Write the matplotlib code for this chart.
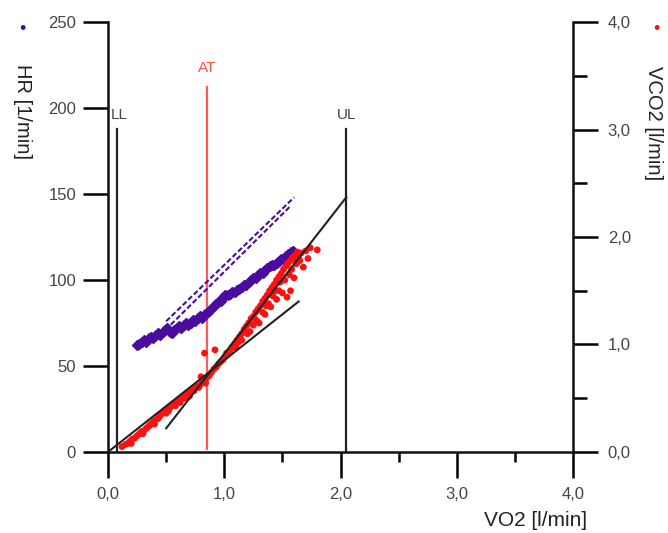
import matplotlib
matplotlib.use("Agg")
import matplotlib.pyplot as plt
import numpy as np

plt.rcParams['font.family'] = ['Liberation Sans', 'DejaVu Sans']

# HR vs VO2 (purple)
hr_vo2 = [0.25, 0.27, 0.29, 0.31, 0.33, 0.35, 0.37, 0.39, 0.41, 0.43, 0.45, 0.47,
          0.49, 0.51, 0.53, 0.55, 0.57, 0.59, 0.61, 0.63, 0.65, 0.67, 0.69, 0.71,
          0.73, 0.75, 0.77, 0.79, 0.81, 0.83, 0.85, 0.87, 0.89, 0.91, 0.93, 0.95,
          0.97, 0.99, 1.01, 1.03, 1.05, 1.07, 1.09, 1.11, 1.13, 1.15, 1.17, 1.19,
          1.21, 1.23, 1.25, 1.27, 1.29, 1.31, 1.33, 1.35, 1.37, 1.39, 1.41, 1.43,
          1.45, 1.47, 1.49, 1.51, 1.53, 1.55, 1.57, 1.59, 1.61]
hr_vals = [62, 63, 64, 65, 64, 66, 67, 66, 68, 69, 68, 70,
           71, 72, 70, 69, 71, 72, 73, 72, 74, 75, 74, 75,
           77, 76, 78, 79, 78, 80, 81, 82, 83, 85, 86, 87,
           88, 90, 91, 91, 92, 93, 93, 94, 95, 96, 97, 97,
           99, 100, 101, 101, 103, 104, 104, 106, 107, 108, 109, 109,
           110, 111, 112, 112, 114, 115, 116, 117, 114]

# HR reference lines (dashed)
hr_ref1_x = [0.50, 1.60]
hr_ref1_y = [76, 148]
hr_ref2_x = [0.54, 1.57]
hr_ref2_y = [74, 143]

# VCO2 vs VO2 (red)
co2_vo2 = [0.12, 0.15, 0.17, 0.19, 0.21, 0.23, 0.25, 0.27, 0.29, 0.31, 0.33, 0.35,
           0.37, 0.39, 0.41, 0.43, 0.45, 0.47, 0.49, 0.51, 0.53, 0.55, 0.57, 0.59,
           0.61, 0.63, 0.65, 0.67, 0.69, 0.71, 0.73, 0.75, 0.77, 0.79, 0.81, 0.83,
           0.85, 0.87, 0.20, 0.30, 0.40, 0.44, 0.50, 0.58, 0.62, 0.70, 0.78, 0.84,
           0.83, 0.92, 0.80,
           0.89, 0.91, 0.93, 0.95, 0.97, 0.99, 1.01, 1.03, 1.05, 1.07, 1.09, 1.11,
           1.13, 1.15, 1.17, 1.19, 1.21, 1.23, 1.25, 1.27, 1.29, 1.31, 1.33, 1.35,
           1.37, 1.39, 1.41, 1.43, 1.45, 1.47, 1.49, 1.51, 1.53, 1.55, 1.57, 1.59,
           1.61, 1.63, 1.66, 1.70, 1.74, 1.80,
           1.10, 1.15, 1.20, 1.22, 1.25, 1.28, 1.30, 1.33, 1.35, 1.38, 1.40, 1.42,
           1.45, 1.47, 1.50, 1.52, 1.54, 1.56, 1.58, 1.60, 1.62, 1.65, 1.68, 1.72,
           1.57, 0.36, 0.52, 0.66, 0.74, 1.02, 1.12, 1.26, 1.36, 1.44, 1.48, 1.64]
co2_vals = [0.05, 0.07, 0.08, 0.10, 0.12, 0.13, 0.15, 0.17, 0.19, 0.20, 0.22, 0.24,
            0.26, 0.28, 0.30, 0.31, 0.34, 0.36, 0.37, 0.39, 0.41, 0.43, 0.45, 0.46,
            0.48, 0.50, 0.51, 0.53, 0.55, 0.56, 0.58, 0.60, 0.61, 0.62, 0.65, 0.66,
            0.69, 0.71, 0.08, 0.17, 0.26, 0.33, 0.36, 0.43, 0.46, 0.52, 0.60, 0.64,
            0.92, 0.95, 0.70,
            0.74, 0.77, 0.79, 0.82, 0.84, 0.86, 0.89, 0.91, 0.94, 0.98, 1.01, 1.04,
            1.07, 1.10, 1.14, 1.17, 1.20, 1.24, 1.26, 1.30, 1.33, 1.36, 1.40, 1.43,
            1.46, 1.50, 1.53, 1.56, 1.60, 1.63, 1.66, 1.70, 1.73, 1.76, 1.78, 1.81,
            1.83, 1.86, 1.85, 1.87, 1.90, 1.88,
            0.97, 1.04, 1.10, 1.12, 1.18, 1.22, 1.20, 1.30, 1.28, 1.38, 1.35, 1.45,
            1.42, 1.50, 1.48, 1.60, 1.44, 1.65, 1.70, 1.62, 1.75, 1.78, 1.72, 1.80,
            1.50, 0.25, 0.38, 0.50, 0.57, 0.92, 1.02, 1.24, 1.36, 1.50, 1.58, 1.80]

# regression lines in VCO2 units
fit1_x = [0.0, 1.64]
fit1_y = [0.0, 1.40]
fit2_x = [0.50, 2.05]
fit2_y = [0.22, 2.37]

# threshold markers (VO2, top in HR units)
ll_x, ll_top = 0.08, 188
at_x, at_top = 0.85, 212
ul_x, ul_top = 2.05, 188

purple = '#4a0c9e'
red = '#ff1010'
gray = '#444444'

fig = plt.figure(figsize=(6.68, 5.33), dpi=100)
ax = fig.add_axes([0.1617, 0.152, 0.6961, 0.8067])
ax2 = ax.twinx()

ax.set_xlim(0, 4)
ax.set_ylim(0, 250)
ax2.set_ylim(0, 4)

for a in (ax, ax2):
    a.spines['top'].set_visible(False)
    for s in a.spines.values():
        s.set_linewidth(1.8)
        s.set_color('#111111')
ax.spines['right'].set_visible(False)
ax2.spines['left'].set_visible(False)
ax2.spines['bottom'].set_visible(False)

ax.set_xticks([0, 1, 2, 3, 4])
ax.set_xticks([0.5, 1.5, 2.5, 3.5], minor=True)
ax.set_xticklabels(['0,0', '1,0', '2,0', '3,0', '4,0'])
ax.set_yticks([0, 50, 100, 150, 200, 250])
ax2.set_yticks([0, 1, 2, 3, 4])
ax2.set_yticks([0.5, 1.5, 2.5, 3.5], minor=True)
ax2.set_yticklabels(['0,0', '1,0', '2,0', '3,0', '4,0'])

ax.tick_params(axis='x', which='major', length=19, width=1.8, pad=6, labelsize=12, labelcolor=gray)
ax.tick_params(axis='x', which='minor', length=7, width=1.8)
ax.tick_params(axis='y', which='major', length=18, width=1.8, pad=5, labelsize=12, labelcolor=gray)
ax2.tick_params(axis='y', which='major', length=18, width=1.8, pad=7, labelsize=12, labelcolor=gray)
ax2.tick_params(axis='y', which='minor', length=10, width=1.8)

# vertical threshold lines
ax.plot([ll_x, ll_x], [0, ll_top], color='#222222', lw=1.6)
ax.plot([ul_x, ul_x], [0, ul_top], color='#222222', lw=1.6)
ax.plot([at_x, at_x], [2, at_top], color='#ff5a5a', lw=1.6)
ax.text(ll_x + 0.02, ll_top + 8, 'LL', ha='center', va='center', fontsize=11, color=gray)
ax.text(ul_x, ul_top + 8, 'UL', ha='center', va='center', fontsize=11, color=gray)
ax.text(at_x, at_top + 11, 'AT', ha='center', va='center', fontsize=11, color='#ff5050')

# HR data
ax.plot(hr_ref1_x, hr_ref1_y, color=purple, lw=1.5, ls=(0, (2.5, 1.2)))
ax.plot(hr_ref2_x, hr_ref2_y, color=purple, lw=1.5, ls=(0, (2.5, 1.2)))
ax.plot(hr_vo2, hr_vals, color=purple, lw=3.5, marker='D', ms=5.5, mec=purple, mfc=purple)

# VCO2 data
ax2.scatter(co2_vo2, co2_vals, s=24, color=red, edgecolors='none', zorder=3)
ax2.plot(fit1_x, fit1_y, color='#222222', lw=1.5, zorder=4)
ax2.plot(fit2_x, fit2_y, color='#222222', lw=1.5, zorder=4)

# axis titles
fig.text(22 / 668, 1 - 30 / 533, '•', color=purple, fontsize=13, ha='center', va='center')
fig.text(22 / 668, 1 - 112 / 533, 'HR [1/min]', rotation=-90, ha='center', va='center',
         fontsize=14.5, color='#222222')
fig.text(656 / 668, 1 - 30 / 533, '•', color=red, fontsize=13, ha='center', va='center')
fig.text(654 / 668, 1 - 123 / 533, 'VCO2 [l/min]', rotation=-90, ha='center', va='center',
         fontsize=14.5, color='#222222')
fig.text(587 / 668, 1 - 520 / 533, 'VO2 [l/min]', ha='right', va='center',
         fontsize=15, color='#222222')

fig.savefig('out.png', dpi=100)
